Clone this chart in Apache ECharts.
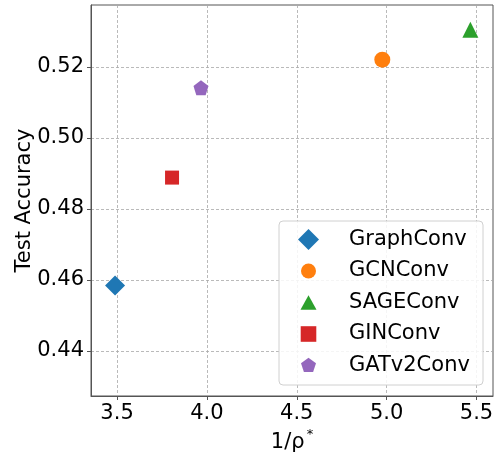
<!DOCTYPE html>
<html><head><meta charset="utf-8">
<script src="https://cdn.jsdelivr.net/npm/echarts@6/dist/echarts.min.js"></script>
<style>html,body{margin:0;padding:0;background:#fff}#c{width:494px;height:457px}</style>
</head><body><div id="c"></div>
<script>
const names = ['GraphConv','GCNConv','SAGEConv','GINConv','GATv2Conv'];
const xVals = [3.489, 4.976, 5.466, 3.806, 3.967];
const yVals = [0.4584, 0.5220, 0.5304, 0.4888, 0.5141];
const colors = ['#1f77b4','#ff7f0e','#2ca02c','#d62728','#9467bd'];
const xTicks = [3.5, 4.0, 4.5, 5.0, 5.5];
const yTicks = [0.44, 0.46, 0.48, 0.50, 0.52];

const pentagon = 'path://M0,-1L0.951,-0.309L0.588,0.809L-0.588,0.809L-0.951,-0.309Z';
const symbols = ['diamond','circle','triangle','rect',pentagon];
const sizes = [20,16,16,14,15];
// legend icons: padded paths inside a 21px box (bounds set by moveTo points)
const B = 'M-10.5,-10.5M10.5,10.5';
const legendIcons = [
  'diamond',
  'path://'+B+'M7.5,0A7.5,7.5,0,1,1,-7.5,0A7.5,7.5,0,1,1,7.5,0Z',
  'path://'+B+'M0,-7.3L8,7.3L-8,7.3Z',
  'path://'+B+'M-7.8,-7.8L7.8,-7.8L7.8,7.8L-7.8,7.8Z',
  'path://'+B+'M0,-7.7L7.5,-2.2L4.6,6.6L-4.6,6.6L-7.5,-2.2Z'
];
const font = 'DejaVu Sans';
const fs = 21;

const chart = echarts.init(document.getElementById('c'), null, {renderer:'canvas'});
chart.setOption({
  animation:false,
  backgroundColor:'#fff',
  grid:{left:91,right:1,top:5,bottom:61,outerBoundsMode:'none',containLabel:false,show:true,borderColor:'#555',borderWidth:1,backgroundColor:'transparent'},
  xAxis:{type:'value',min:3.355,max:5.592,
    name:'{a|1/ρ}{s|*}',nameLocation:'middle',nameGap:32,nameMoveOverlap:false,
    nameTextStyle:{rich:{a:{fontFamily:font,fontSize:fs,color:'#000',verticalAlign:'bottom'},s:{fontFamily:font,fontSize:13,color:'#000',verticalAlign:'top',padding:[0,0,12,2]}}},
    axisLine:{show:true,onZero:false,lineStyle:{color:'#555',width:1}},
    axisTick:{show:true,length:4,customValues:xTicks,lineStyle:{color:'#555'}},
    axisLabel:{customValues:xTicks,fontFamily:font,fontSize:fs,color:'#000',margin:7,formatter:v=>v.toFixed(1)},
    splitLine:{show:true,lineStyle:{color:'#a8a8a8',width:0.8,type:[3,2]}}},
  yAxis:{type:'value',min:0.4273,max:0.5374,
    name:'Test Accuracy',nameLocation:'middle',nameGap:56,nameRotate:90,nameMoveOverlap:false,
    nameTextStyle:{fontFamily:font,fontSize:fs,color:'#000'},
    axisLine:{show:true,onZero:false,lineStyle:{color:'#555',width:1}},
    axisTick:{show:true,length:4,customValues:yTicks,lineStyle:{color:'#555'}},
    axisLabel:{customValues:yTicks,fontFamily:font,fontSize:fs,color:'#000',margin:7,formatter:v=>v.toFixed(2)},
    splitLine:{show:true,lineStyle:{color:'#a8a8a8',width:0.8,type:[3,2]}}},
  legend:{orient:'vertical',left:279,top:221,padding:[8,10,8,19],itemWidth:21,itemHeight:21,itemGap:10.5,
    data:names.map((n,i)=>({name:n,icon:legendIcons[i]})),
    textStyle:{fontFamily:font,fontSize:fs,color:'#000',padding:[0,0,0,25]},z:5},
  graphic:[{type:'rect',shape:{x:279,y:221,width:204,height:164,r:4},style:{fill:'rgba(255,255,255,0.85)',stroke:'#d0d0d0',lineWidth:1},z:4}],
  series:names.map((n,i)=>({
    name:n,type:'scatter',symbol:symbols[i],symbolSize:sizes[i],
    itemStyle:{color:colors[i],opacity:1},
    data:[[xVals[i],yVals[i]]],z:3
  }))
});
</script></body></html>
